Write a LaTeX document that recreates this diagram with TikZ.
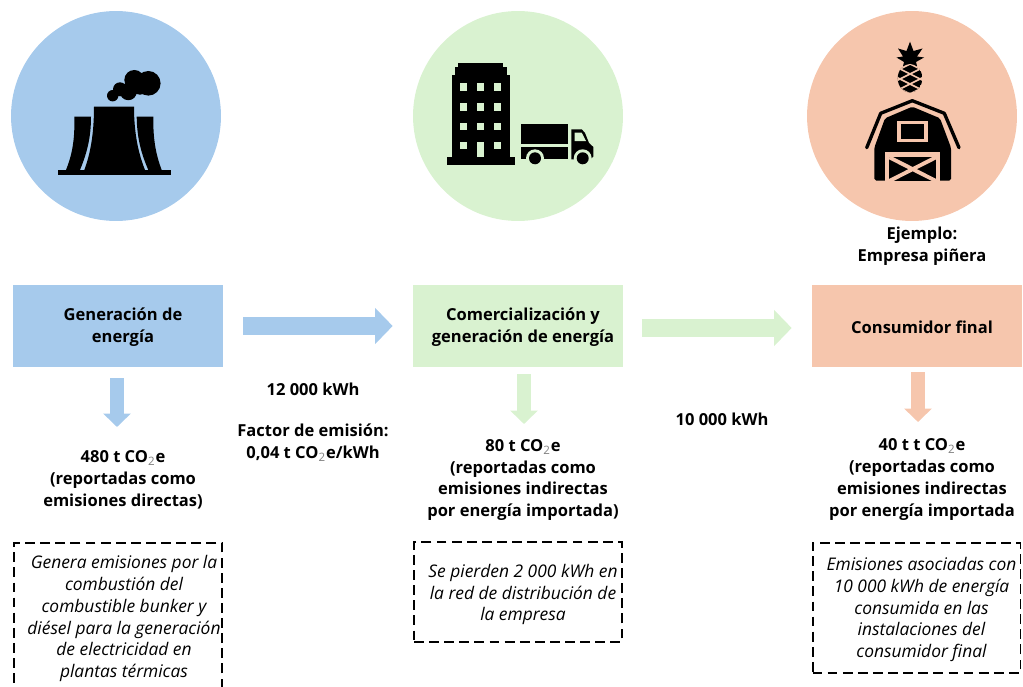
\documentclass[tikz,border=0pt]{standalone}
\usepackage{fontspec}
\usepackage{xcolor}
\setmainfont{Open Sans}
\usetikzlibrary{arrows.meta,calc}

\definecolor{genblue}{HTML}{A6CAEC}
\definecolor{comgreen}{HTML}{D9F2D0}
\definecolor{conpeach}{HTML}{F6C6AD}

\newcommand{\cotwo}{CO\textsubscript{\mdseries\color{gray}2}e}

\tikzset{
  stagecirc/.style={circle, minimum size=4.2cm, inner sep=0pt},
  stagebox/.style={rectangle, minimum width=4.2cm, minimum height=1.64cm, inner sep=0pt},
  notebox/.style={rectangle, draw, line width=1.1pt, dash pattern=on 5.6pt off 3pt, minimum width=4.16cm, inner sep=0pt},
  boldtxt/.style={font=\fontsize{9.4}{12.4}\selectfont\bfseries, align=center, inner sep=0pt},
  notetxt/.style={font=\fontsize{9.9}{12.5}\selectfont\itshape, align=center, inner sep=0pt},
  flow/.style={line width=.35cm, -{Triangle[length=.35cm,width=.7cm]}},
  drop/.style={line width=.28cm, -{Triangle[length=.27cm,width=.54cm]}}
}

\begin{document}
\begin{tikzpicture}[x=.02cm, y=-.02cm]
    \clip (0,0) rectangle (1023,686);

    % Circles
    \node[stagecirc, fill=genblue] (gencirc) at (116,116) {};
    \node[stagecirc, fill=comgreen] (comcirc) at (518,116) {};
    \node[stagecirc, fill=conpeach] (concirc) at (912,116) {};

    % Power plant
    \fill (58.3,170) rectangle (170.7,175);
    \fill (94,106.7) -- (134,106.7) .. controls (134,135) and (139,155) .. (145,170) -- (84.3,170) .. controls (90,155) and (94,135) .. cycle;
    \fill (74.3,116.7) -- (91,116.7) .. controls (91,140) and (86,155) .. (80,170) -- (66,170) .. controls (72,155) and (75,140) .. cycle;
    \fill (136.7,116.7) -- (153.3,116.7) .. controls (153,140) and (156,155) .. (161.7,170) -- (148.3,170) .. controls (142,155) and (137,140) .. cycle;
    \fill (112.7,95.7) circle (5.7) (120,89.3) circle (7) (128.3,91.7) circle (8.5) (134.3,80) circle (10) (148.3,83.3) circle (12.3) (140,86.7) circle (8);

    % Building
    \fill (446.7,156.7) rectangle (515,165);
    \fill (451.7,75) rectangle (510,157);
    \fill (455,67.3) rectangle (506.7,75.5);
    \fill (458.3,62.7) rectangle (502.7,67.5);
    \foreach \wx in {460,477,494}
        \foreach \wy in {83.3,103.3,122.7,142}
            \fill[comgreen] (\wx,\wy) rectangle ++(7.3,7.3);
    \fill[comgreen] (477,142) rectangle (484.3,156.7);

    % Truck
    \fill (521,124) rectangle (568,143.7);
    \fill (521,147.3) rectangle (568,159.3);
    \fill (571.3,159.3) -- (571.3,129.3) -- (581.7,129.3) -- (585,133) -- (589,143) -- (593.3,147) -- (593.3,156.7) -- (590,159.3) -- cycle;
    \fill[comgreen] (574.7,132.7) -- (581.7,132.7) -- (586,141) -- (574.7,141) -- cycle;
    \fill[comgreen] (535,158.3) circle (9) (582.7,158.3) circle (9);
    \fill[comgreen] (521,160) rectangle (593.3,170);
    \fill (535,158.3) circle (6) (582.7,158.3) circle (6);

    % Pineapple
    \fill (910,41.7) -- (913.5,51) -- (922.5,48.5) -- (917,56.5) -- (924,57.5) -- (916,62) -- (917,66) -- (903,66) -- (904,62) -- (896.5,57.5) -- (903,56.5) -- (898,48.5) -- (906.5,51) -- cycle;
    \begin{scope}
        \clip (910,78.3) ellipse (12.3 and 14.3);
        \fill (910,78.3) ellipse (12.3 and 14.3);
        \foreach \off in {-10,0,10,20}
        {
            \draw[conpeach, line width=.9pt] (890,84+\off) -- (930,64+\off);
            \draw[conpeach, line width=.9pt] (890,64+\off) -- (930,84+\off);
        }
    \end{scope}

    % Barn
    \fill[rounded corners=1pt] (874.3,180.5) -- (874.3,147.7) -- (885,118.3) -- (912.3,106.7) -- (940,118.3) -- (951,147.7) -- (951,180.5) -- cycle;
    \draw[line width=1.9pt, line cap=round, line join=round] (866.7,147.7) -- (880.7,113.3) -- (912.3,100.7) -- (944.3,113.3) -- (959,147.7);
    \fill[conpeach] (897.3,120.7) rectangle (928.3,142.3);
    \fill (901,124.3) rectangle (924,139);
    \fill[conpeach] (885,151.7) rectangle (940,182);
    \fill (889.3,157.3) rectangle (936,181);
    \draw[conpeach, line width=2.2pt] (889.3,157.3) -- (936,181) (936,157.3) -- (889.3,181);

    % Stage boxes
    \node[stagebox, fill=genblue] (gen) at (118,326) {};
    \node[stagebox, fill=comgreen] (com) at (518,326) {};
    \node[stagebox, fill=conpeach] (con) at (917,326) {};
    \node[boldtxt] (gentxt) at (123,327) {Generación de\\energía};
    \node[boldtxt] (comtxt) at (523,327) {Comercialización y\\generación de energía};
    \node[boldtxt] (contxt) at (922,327) {Consumidor final};
    \node[boldtxt] (ejemplo) at (922,246) {Ejemplo:\\Empresa piñera};

    % Arrows
    \draw[flow, genblue, shorten <=.4cm, shorten >=.4cm] (gen.east) -- (com.west);
    \draw[flow, comgreen, shorten <=.37cm, shorten >=.4cm] ([yshift=-.04cm]com.east) -- ([yshift=-.04cm]con.west);
    \coordinate (genend) at (117,427);
    \coordinate (comend) at (524,424);
    \coordinate (conend) at (918,422);
    \draw[drop, genblue, shorten <=.22cm] (gen.south -| genend) -- (genend);
    \draw[drop, comgreen, shorten <=.14cm] (com.south -| comend) -- (comend);
    \draw[drop, conpeach, shorten <=.1cm] (con.south -| conend) -- (conend);

    % Flow labels
    \node[boldtxt] (kwhgen) at (313,389) {12 000 kWh};
    \node[boldtxt] (factor) at (313,443) {Factor de emisión:\\0,04 t \cotwo/kWh};
    \node[boldtxt] (kwhcom) at (722,419) {10 000 kWh};

    % Emissions
    \node[boldtxt] (genemis) at (123,480) {480 t \cotwo\\(reportadas como\\emisiones directas)};
    \node[boldtxt] (comemis) at (523,480) {80 t \cotwo\\(reportadas como\\emisiones indirectas\\por energía importada)};
    \node[boldtxt] (conemis) at (922,479.5) {40 t t \cotwo\\(reportadas como\\emisiones indirectas\\por energía importada};

    % Notes
    \node[notebox, minimum height=2.98cm] (gennote) at (118,617.5) {};
    \node[notebox, minimum height=2cm] (comnote) at (518,592) {};
    \node[notebox, minimum height=2.6cm] (connote) at (916.5,608) {};
    \node[notetxt] (gennotetxt) at (124,618.5) {Genera emisiones por la\\combustión del\\combustible bunker y\\diésel para la generación\\de electricidad en\\plantas térmicas};
    \node[notetxt] (comnotetxt) at (523,594.5) {Se pierden 2 000 kWh en\\la red de distribución de\\la empresa};
    \node[notetxt] (connotetxt) at (921.5,609.5) {Emisiones asociadas con\\10 000 kWh de energía\\consumida en las\\instalaciones del\\consumidor final};
\end{tikzpicture}
\end{document}
